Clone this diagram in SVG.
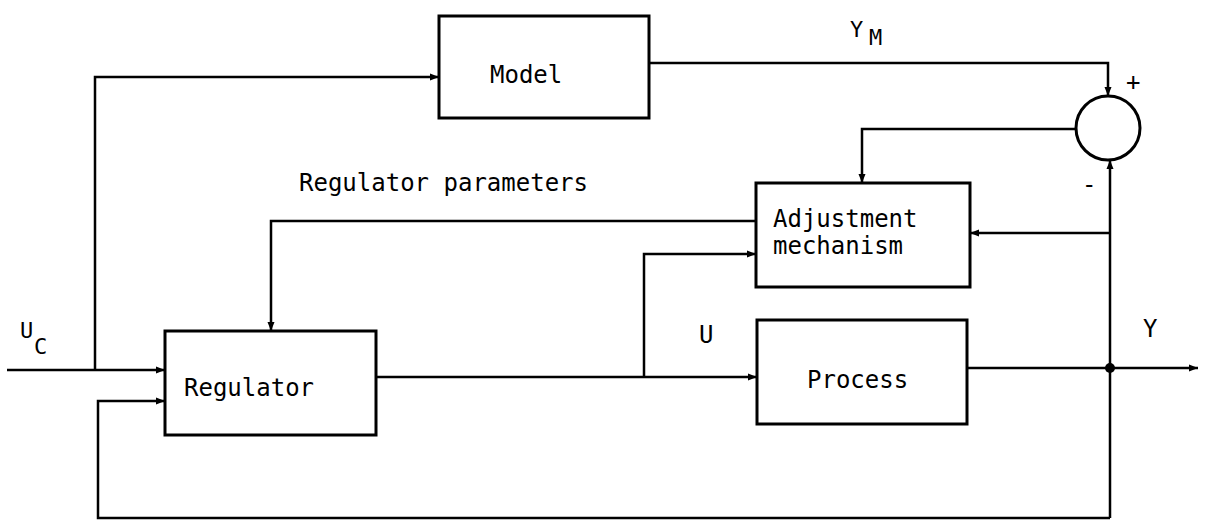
<svg xmlns="http://www.w3.org/2000/svg" width="1205" height="523" viewBox="0 0 1205 523">
<style>
.box{fill:none;stroke:#000;stroke-width:3}
.ln{fill:none;stroke:#000;stroke-width:2.5}
.t{font-family:"DejaVu Sans Mono","Liberation Mono",monospace;font-size:24px;fill:#000}
.s{font-family:"DejaVu Sans Mono","Liberation Mono",monospace;font-size:22px;fill:#000}
</style>
<defs>
<marker id="a" markerUnits="userSpaceOnUse" markerWidth="10" markerHeight="8" refX="9" refY="4" orient="auto">
<path d="M0,0.5 L9,4 L0,7.5 z" fill="#000"/>
</marker>
</defs>
<rect width="1205" height="523" fill="#fff"/>
<g id="connectors">
<path class="ln" d="M7,370 H165" marker-end="url(#a)"/>
<path class="ln" d="M95,370 V77 H439" marker-end="url(#a)"/>
<path class="ln" d="M649,63 H1108 V96" marker-end="url(#a)"/>
<path class="ln" d="M1076,129 H862 V183" marker-end="url(#a)"/>
<path class="ln" d="M756,221 H271 V331" marker-end="url(#a)"/>
<path class="ln" d="M376,377 H757" marker-end="url(#a)"/>
<path class="ln" d="M644,377 V254 H756" marker-end="url(#a)"/>
<path class="ln" d="M967,368 H1198" marker-end="url(#a)"/>
<path class="ln" d="M1110,518 V160" marker-end="url(#a)"/>
<path class="ln" d="M1110,233 H970" marker-end="url(#a)"/>
<path class="ln" d="M1110,518 H98 V401 H165" marker-end="url(#a)"/>
<circle cx="1110" cy="368" r="5" fill="#000"/>
</g>
<g id="model">
<rect class="box" x="439" y="16" width="210" height="102"/>
<text class="t" x="490" y="83">Model</text>
</g>
<g id="sum">
<circle class="box" cx="1108" cy="128" r="32"/>
<text class="t" x="1126" y="90">+</text>
<text class="t" x="1082" y="193">-</text>
</g>
<g id="adjustment">
<rect class="box" x="756" y="183" width="214" height="104"/>
<text class="t" x="773" y="227">Adjustment</text>
<text class="t" x="773" y="254">mechanism</text>
</g>
<g id="regulator">
<rect class="box" x="165" y="331" width="211" height="104"/>
<text class="t" x="184" y="396">Regulator</text>
</g>
<g id="process">
<rect class="box" x="757" y="320" width="210" height="104"/>
<text class="t" x="807" y="388">Process</text>
</g>
<g id="labels">
<text class="t" x="299" y="191">Regulator parameters</text>
<text class="s" x="850" y="37">Y</text>
<text class="s" x="869" y="45">M</text>
<text class="s" x="20" y="338">U</text>
<text class="s" x="34" y="354">C</text>
<text class="t" x="699" y="343">U</text>
<text class="t" x="1143" y="337">Y</text>
</g>
</svg>
